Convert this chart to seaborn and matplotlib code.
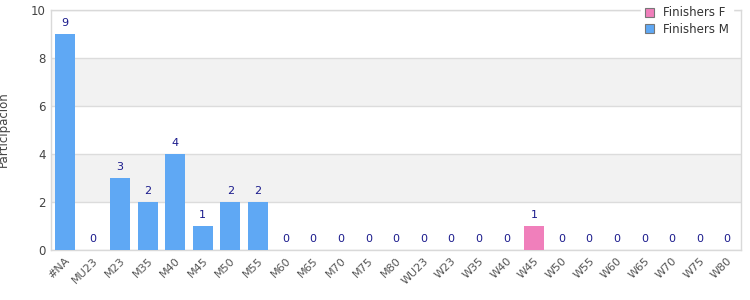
import matplotlib
matplotlib.use("Agg")
import matplotlib.pyplot as plt
import seaborn as sns
import pandas as pd
from matplotlib.patches import Patch

categories = ["#NA", "MU23", "M23", "M35", "M40", "M45", "M50", "M55", "M60", "M65",
              "M70", "M75", "M80", "WU23", "W23", "W35", "W40", "W45", "W50", "W55",
              "W60", "W65", "W70", "W75", "W80"]
finishers_m = [9, 0, 3, 2, 4, 1, 2, 2, 0, 0, 0, 0, 0, 0, 0, 0, 0, 0, 0, 0, 0, 0, 0, 0, 0]
finishers_f = [0, 0, 0, 0, 0, 0, 0, 0, 0, 0, 0, 0, 0, 0, 0, 0, 0, 1, 0, 0, 0, 0, 0, 0, 0]
series_names = ["Finishers F", "Finishers M"]
y_ticks = [0, 2, 4, 6, 8, 10]

colors = {"Finishers F": "#f07fbb", "Finishers M": "#5fa8f4"}

rows = []
for c, f, m in zip(categories, finishers_f, finishers_m):
    rows.append({"cat": c, "series": "Finishers F", "value": f})
    rows.append({"cat": c, "series": "Finishers M", "value": m})
df = pd.DataFrame(rows)

sns.set_theme(style="white")
plt.rcParams['font.family'] = ['DejaVu Sans']

fig = plt.figure(figsize=(7.5, 3.0), dpi=100)
ax = fig.add_axes([0.068, 0.1667, 0.92, 0.80])

# alternating bands
for i in range(len(y_ticks) - 1):
    if i % 2 == 1:
        ax.axhspan(y_ticks[i], y_ticks[i + 1], color="#f2f2f2", zorder=0, lw=0)

sns.barplot(data=df, x="cat", y="value", hue="series", hue_order=series_names,
            order=categories, palette=colors, dodge=False, width=0.72,
            saturation=1, ax=ax, legend=False, zorder=3, linewidth=0,
            edgecolor="none")

for y in y_ticks:
    ax.axhline(y, color="#dcdcdc", lw=1, zorder=1)

totals = [f + m for f, m in zip(finishers_f, finishers_m)]
for i, t in enumerate(totals):
    ax.annotate(str(t), (i, t), xytext=(0, 4), textcoords="offset points",
                ha="center", va="bottom", fontsize=8, color="#1a1a8c", zorder=5)

ax.set_ylim(0, 10)
ax.set_xlim(-0.5, len(categories) - 0.5)
ax.set_yticks(y_ticks)
ax.set_yticklabels([str(v) for v in y_ticks], fontsize=8.5, color="#444444")
ax.set_xticks(range(len(categories)))
ax.set_xticklabels(categories, rotation=45, ha="right", rotation_mode="anchor",
                   fontsize=8, color="#555555")
ax.tick_params(axis="both", length=0, pad=4)
ax.set_xlabel("")
ax.set_ylabel("")
for s in ax.spines.values():
    s.set_color("#d9d9d9")
    s.set_linewidth(1)

fig.text(0.005, 0.57, "Participación", rotation=90, ha="center", va="center",
         fontsize=8.5, color="#444444")

handles = [Patch(facecolor=colors[n], edgecolor="#777777", linewidth=0.8) for n in series_names]
leg = fig.legend(handles, series_names, loc="upper right", bbox_to_anchor=(0.985, 1.01),
                 frameon=True, fontsize=8.5, handlelength=0.8, handleheight=0.8,
                 handletextpad=0.8, labelspacing=0.3, borderpad=0.3)
leg.get_frame().set_facecolor("white")
leg.get_frame().set_edgecolor("white")
leg.get_frame().set_alpha(1)
for t in leg.get_texts():
    t.set_color("#333333")

fig.savefig("out.png", dpi=100)
